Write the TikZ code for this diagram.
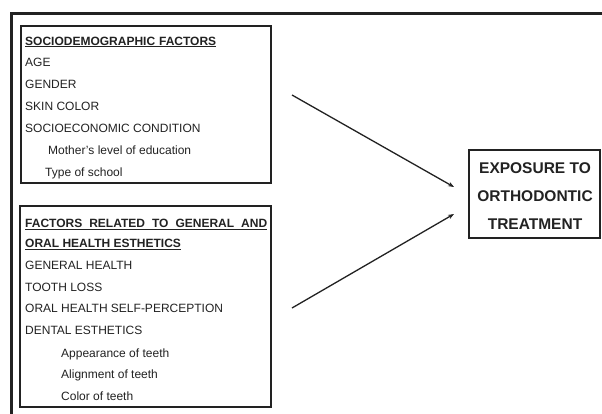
\documentclass[tikz,border=0pt]{standalone}
\usepackage{fontspec}
\setmainfont{Liberation Sans}
\usetikzlibrary{arrows.meta}
\definecolor{ink}{HTML}{222222}
\begin{document}
\begin{tikzpicture}[x=1pt,y=-1pt,
  txt/.style={anchor=base west,inner sep=0pt,font=\fontsize{12}{14}\selectfont,text=ink},
  frame/.style={draw=ink,line width=2.4pt,inner sep=0pt},
  arr/.style={draw=ink,line width=1.3pt,-{Stealth[length=6pt,width=4.5pt]}},
  big/.style={inner sep=0pt,font=\fontsize{15.5}{18}\selectfont\bfseries,text=ink}]
\useasboundingbox (0,0) rectangle (602,413);
\fill[white] (0,0) rectangle (602,413);
% outer frame (only top and left visible)
\coordinate (fbl) at (11.5,414);
\coordinate (ftl) at (11.5,13.5);
\coordinate (ftr) at (603,13.5);
\draw[ink,line width=3pt] (fbl) -- (ftl) -- (ftr);
% box 1
\node[frame,minimum width=250pt,minimum height=157pt] (b1) at (146,104.5) {};
\node[txt] (t1) at (25,45) {\textbf{\underline{\makebox[191pt][s]{SOCIODEMOGRAPHIC FACTORS}}}};
\node[txt] (t2) at (25,66.5) {AGE};
\node[txt] (t3) at (25,88.5) {GENDER};
\node[txt] (t4) at (25,110.5) {SKIN COLOR};
\node[txt] (t5) at (25,132.5) {SOCIOECONOMIC CONDITION};
\node[txt] (t6) at (48,154.5) {Mother's level of education};
\node[txt] (t7) at (45,176.5) {Type of school};
% box 2
\node[frame,minimum width=251pt,minimum height=201pt] (b2) at (145.5,306.5) {};
\node[txt] (s1) at (25,227.5) {\textbf{\underline{\makebox[242pt][s]{FACTORS RELATED TO GENERAL AND}}}};
\node[txt] (s2) at (25,247.5) {\textbf{\underline{ORAL HEALTH ESTHETICS}}};
\node[txt] (s3) at (25,269.5) {GENERAL HEALTH};
\node[txt] (s4) at (25,291.5) {TOOTH LOSS};
\node[txt] (s5) at (25,312.5) {ORAL HEALTH SELF-PERCEPTION};
\node[txt] (s6) at (25,334.5) {DENTAL ESTHETICS};
\node[txt] (s7) at (61,357) {Appearance of teeth};
\node[txt] (s8) at (61,378) {Alignment of teeth};
\node[txt] (s9) at (61,400) {Color of teeth};
% box 3
\node[frame,line width=2pt,minimum width=131pt,minimum height=88pt] (b3) at (534.5,194) {};
\node[big] (e1) at (535,168) {EXPOSURE TO};
\node[big] (e2) at (535,196) {ORTHODONTIC};
\node[big] (e3) at (535,224) {TREATMENT};
% arrows
\coordinate (a1s) at (292,95);
\coordinate (a1e) at (454,187);
\coordinate (a2s) at (292,308);
\coordinate (a2e) at (454,214);
\draw[arr] (a1s) -- (a1e);
\draw[arr] (a2s) -- (a2e);
\end{tikzpicture}
\end{document}
